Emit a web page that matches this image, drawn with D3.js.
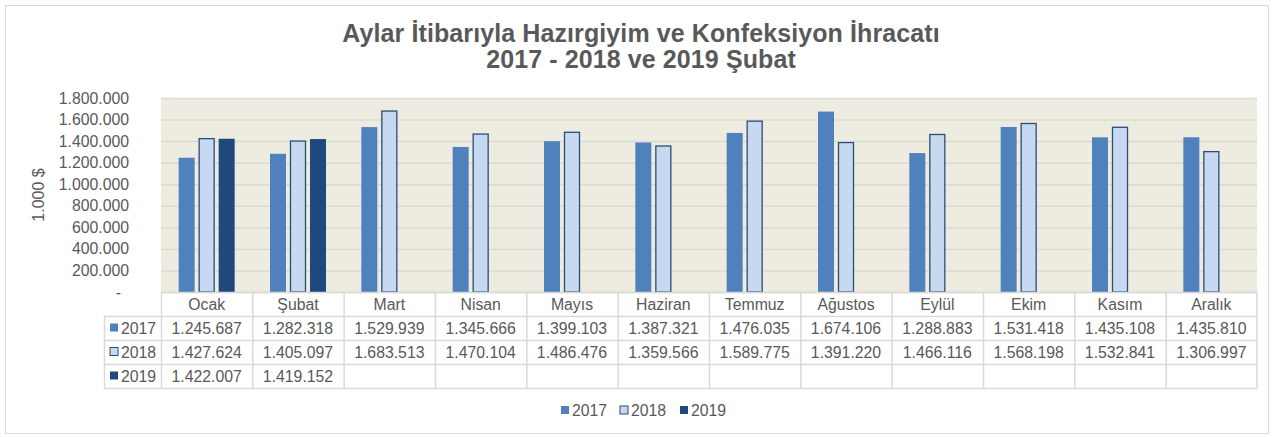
<!DOCTYPE html>
<html>
<head>
<meta charset="utf-8">
<script src="https://cdn.jsdelivr.net/npm/d3@7"></script>
<style>
  body { margin: 0; background: #fff; }
  svg { font-family: "Liberation Sans", Arial, sans-serif; }
</style>
</head>
<body>
<svg id="drawing_region"></svg>
<script>
const months = ["Ocak", "Şubat", "Mart", "Nisan", "Mayıs", "Haziran", "Temmuz", "Ağustos", "Eylül", "Ekim", "Kasım", "Aralık"];
const years = ["2017", "2018", "2019"];
const values2017 = [1245687, 1282318, 1529939, 1345666, 1399103, 1387321, 1476035, 1674106, 1288883, 1531418, 1435108, 1435810];
const values2018 = [1427624, 1405097, 1683513, 1470104, 1486476, 1359566, 1589775, 1391220, 1466116, 1568198, 1532841, 1306997];
const values2019 = [1422007, 1419152];
const yTicks = [0, 200000, 400000, 600000, 800000, 1000000, 1200000, 1400000, 1600000, 1800000];

const series = [
    { name: years[0], values: values2017, fill: "#4F81BD", stroke: "none" },
    { name: years[1], values: values2018, fill: "#C6D9F1", stroke: "#2C4D75" },
    { name: years[2], values: values2019, fill: "#1F497D", stroke: "none" }
];

const config = {
    width: 1277,
    height: 437,
    plot: { left: 161, right: 1257, top: 98, bottom: 292 },
    labelLeft: 104,
    rowHeight: 24,
    fontSize: "15.8px",
    textColor: "#595959",
    gridColor: "#D9D9D9"
};

const fmt = v => d3.format(",")(v).replace(/,/g, ".");

const svg = d3.select("#drawing_region")
    .attr("width", config.width)
    .attr("height", config.height);

// outer border
svg.append("rect")
    .attr("x", 5.5).attr("y", 5.5)
    .attr("width", 1263).attr("height", 428)
    .attr("fill", "#fff")
    .attr("stroke", "#D9D9D9");

// title
const title = svg.append("text")
    .attr("x", 641)
    .attr("text-anchor", "middle")
    .attr("font-size", "25px")
    .attr("font-weight", "bold")
    .attr("letter-spacing", "0.1px")
    .attr("fill", config.textColor);
title.append("tspan").attr("x", 641).attr("y", 42).text("Aylar İtibarıyla Hazırgiyim ve Konfeksiyon İhracatı");
title.append("tspan").attr("x", 641).attr("y", 68).text("2017 - 2018 ve 2019 Şubat");

const p = config.plot;

const xscale = d3.scaleBand()
    .domain(months)
    .range([p.left, p.right]);

const groupWidth = 56;
const x1 = d3.scaleBand()
    .domain(years)
    .range([(xscale.bandwidth() - groupWidth) / 2, (xscale.bandwidth() + groupWidth) / 2])
    .paddingInner(0.2);

const yscale = d3.scaleLinear()
    .domain([0, 1800000])
    .range([p.bottom, p.top]);

// plot background
svg.append("rect")
    .attr("x", p.left).attr("y", p.top)
    .attr("width", p.right - p.left).attr("height", p.bottom - p.top)
    .attr("fill", "#EEECE1");

// gridlines
const grid = svg.append("g")
    .attr("transform", `translate(${p.left},0)`)
    .call(d3.axisLeft(yscale).tickValues(yTicks).tickSize(-(p.right - p.left)).tickFormat(""));
grid.select(".domain").remove();
grid.selectAll("line").attr("stroke", "#DCDAD0").attr("stroke-width", 1.5);

// y axis labels
const yaxis = svg.append("g")
    .attr("transform", `translate(${p.left},0)`)
    .call(d3.axisLeft(yscale).tickValues(yTicks).tickSize(0).tickPadding(32)
        .tickFormat(d => d === 0 ? "-" : fmt(d)));
yaxis.select(".domain").remove();
yaxis.selectAll("text")
    .attr("font-family", "Liberation Sans, Arial, sans-serif")
    .attr("font-size", config.fontSize)
    .attr("fill", config.textColor);
yaxis.selectAll(".tick").filter(d => d === 0).select("text").attr("x", -40);

// y axis title
svg.append("text")
    .attr("transform", "translate(44,195) rotate(-90)")
    .attr("text-anchor", "middle")
    .attr("font-size", "16px")
    .attr("fill", config.textColor)
    .text("1.000 $");

// bars
const groups = svg.selectAll("g.series")
    .data(series)
    .join("g")
    .attr("class", "series");

groups.selectAll("rect")
    .data(s => s.values.map((v, i) => ({ month: months[i], value: v, s })))
    .join("rect")
    .attr("x", d => xscale(d.month) + x1(d.s.name) + (d.s.stroke !== "none" ? 0.5 : 0))
    .attr("y", d => yscale(d.value) + (d.s.stroke !== "none" ? 0.5 : 0))
    .attr("width", d => x1.bandwidth() - (d.s.stroke !== "none" ? 1 : 0))
    .attr("height", d => yscale(0) - yscale(d.value) - (d.s.stroke !== "none" ? 0.5 : 0))
    .attr("fill", d => d.s.fill)
    .attr("stroke", d => d.s.stroke)
    .attr("stroke-width", 1.3);

// data table
const table = svg.append("g");
const rh = config.rowHeight;
const tTop = p.bottom;
const tBottom = tTop + rh * 4;

// horizontal lines
[0, 1, 2, 3, 4].forEach(i => {
    const y = tTop + i * rh + 0.5;
    table.append("line")
        .attr("x1", i === 0 ? p.left : config.labelLeft)
        .attr("x2", p.right)
        .attr("y1", y).attr("y2", y)
        .attr("stroke", config.gridColor).attr("stroke-width", 1.5);
});
// vertical lines
table.append("line")
    .attr("x1", config.labelLeft + 0.5).attr("x2", config.labelLeft + 0.5)
    .attr("y1", tTop + rh).attr("y2", tBottom)
    .attr("stroke", config.gridColor).attr("stroke-width", 1.5);
months.forEach((m, i) => {
    const x = xscale(m) + 0.5;
    table.append("line")
        .attr("x1", x).attr("x2", x)
        .attr("y1", tTop).attr("y2", tBottom)
        .attr("stroke", config.gridColor).attr("stroke-width", 1.5);
});
table.append("line")
    .attr("x1", p.right).attr("x2", p.right)
    .attr("y1", tTop).attr("y2", tBottom)
    .attr("stroke", config.gridColor).attr("stroke-width", 1.5);

// header
table.selectAll("text.month")
    .data(months)
    .join("text")
    .attr("class", "month")
    .attr("x", d => xscale(d) + xscale.bandwidth() / 2)
    .attr("y", tTop + rh / 2 + 6)
    .attr("text-anchor", "middle")
    .attr("font-size", config.fontSize)
    .attr("fill", config.textColor)
    .text(d => d);

// rows
series.forEach((s, r) => {
    const yMid = tTop + rh * (r + 1) + rh / 2;
    table.append("rect")
        .attr("x", 110).attr("y", yMid - 4.5)
        .attr("width", 8).attr("height", 8)
        .attr("fill", s.fill)
        .attr("stroke", s.stroke === "none" ? "none" : s.stroke);
    table.append("text")
        .attr("x", 121).attr("y", yMid + 6)
        .attr("font-size", config.fontSize)
        .attr("fill", config.textColor)
        .text(s.name);
    table.selectAll(null)
        .data(s.values)
        .join("text")
        .attr("x", (d, i) => xscale(months[i]) + xscale.bandwidth() / 2)
        .attr("y", yMid + 6)
        .attr("text-anchor", "middle")
        .attr("font-size", config.fontSize)
        .attr("fill", config.textColor)
        .text(d => fmt(d));
});

// legend
const legendX = [561, 620, 680];
series.forEach((s, i) => {
    svg.append("rect")
        .attr("x", legendX[i]).attr("y", 406)
        .attr("width", 8).attr("height", 8)
        .attr("fill", s.fill)
        .attr("stroke", s.stroke === "none" ? "none" : s.stroke);
    svg.append("text")
        .attr("x", legendX[i] + 11).attr("y", 416)
        .attr("font-size", config.fontSize)
        .attr("fill", config.textColor)
        .text(s.name);
});
</script>
</body>
</html>
